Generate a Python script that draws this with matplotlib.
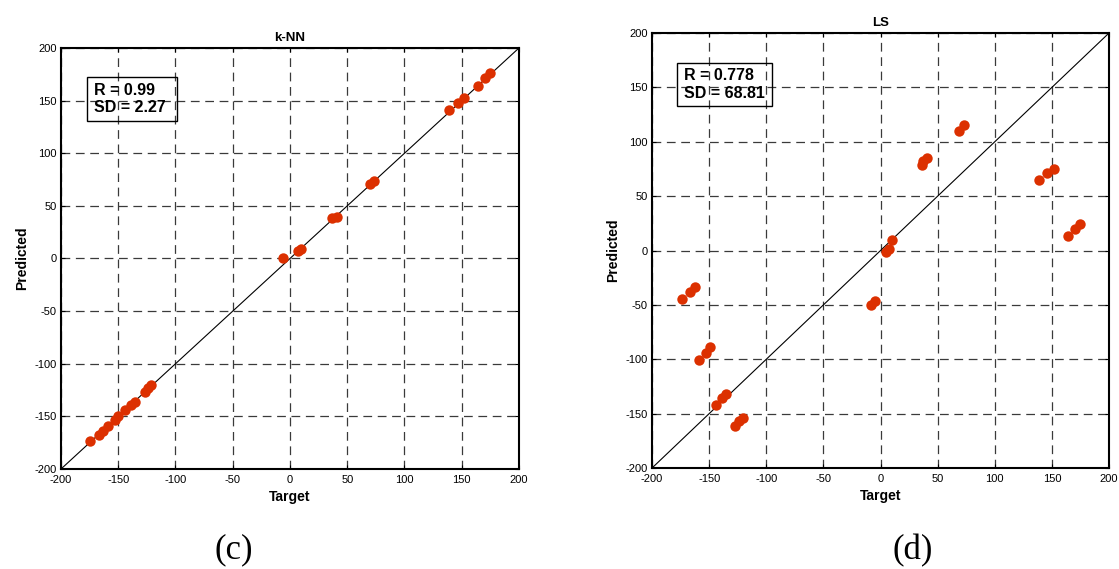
import numpy as np
import matplotlib
matplotlib.use("Agg")
import matplotlib.pyplot as plt

plt.rcParams['font.family'] = ['Liberation Sans', 'DejaVu Sans']
plt.rcParams['axes.unicode_minus'] = False

# k-NN: target vs predicted
knn_target = [175, 170, 164, 152, 147, 139, 73, 70, 41, 37, 10, 7, -6,
              -121, -124, -127, -135, -139, -144, -150, -153, -159, -163, -167, -175]
knn_pred = [176, 171, 164, 152, 148, 141, 74, 71, 39, 38, 9, 7, 0,
            -120, -123, -127, -136, -139, -144, -150, -153, -159, -164, -168, -173]

# LS: target vs predicted
ls_target = [73, 69, 41, 37, 36, 152, 146, 139, 175, 170, 164, 10, 7, 5,
             -162, -167, -174, -5, -8, -149, -153, -159, -135, -139, -144, -120, -124, -127]
ls_pred = [115, 110, 85, 82, 79, 75, 71, 65, 24, 20, 13, 10, 1, -1,
           -34, -38, -45, -46, -50, -89, -94, -101, -132, -136, -142, -154, -157, -161]

panels = [
    ("k-NN", knn_target, knn_pred, "R = 0.99\nSD = 2.27", "(c)",
     [0.0545, 0.1757, 0.4093, 0.740], (-177.6, 131, 78.6, 41.2), 0.209),
    ("LS", ls_target, ls_pred, "R = 0.778\nSD = 68.81", "(d)",
     [0.5827, 0.1775, 0.4084, 0.7645], (-178.4, 132.9, 83.1, 39.2), 0.816),
]

ticks = np.arange(-200, 201, 50)
fig = plt.figure(figsize=(11.19, 5.69), dpi=100)

for title, tx, py, stats, cap, rect, box, capx in panels:
    ax = fig.add_axes(rect)
    ax.plot([-200, 200], [-200, 200], color='black', lw=0.8, zorder=2)
    ax.plot(tx, py, 'o', color='#dc3000', markersize=7.5, markeredgewidth=0, zorder=3)
    ax.set_xlim(-200, 200)
    ax.set_ylim(-200, 200)
    ax.set_xticks(ticks)
    ax.set_yticks(ticks)
    ax.grid(True, color='#3a3a3a', linestyle=(0, (7, 4.5)), lw=0.9)
    ax.tick_params(direction='in', top=True, right=True, length=3, labelsize=8)
    ax.tick_params(axis='x', pad=4)
    ax.tick_params(axis='y', pad=3)
    for s in ax.spines.values():
        s.set_linewidth(1.5)
    ax.set_title(title, fontweight='bold', fontsize=9.5, pad=5)
    ax.set_xlabel("Target", fontweight='bold', fontsize=10, labelpad=4)
    ax.set_ylabel("Predicted", fontweight='bold', fontsize=10, labelpad=4)
    bx, by, bw, bh = box
    ax.add_patch(plt.Rectangle((bx, by), bw, bh, fill=False, edgecolor='black', lw=1.0, zorder=4))
    ax.text(bx + 6, by + bh / 2, stats, fontweight='bold', fontsize=11.5,
            va='center', ha='left', linespacing=1.2, zorder=5)
    fig.text(capx, 0.033, cap, ha='center', va='center',
             fontsize=25, family='Liberation Serif')

fig.savefig("out.png", dpi=100)
